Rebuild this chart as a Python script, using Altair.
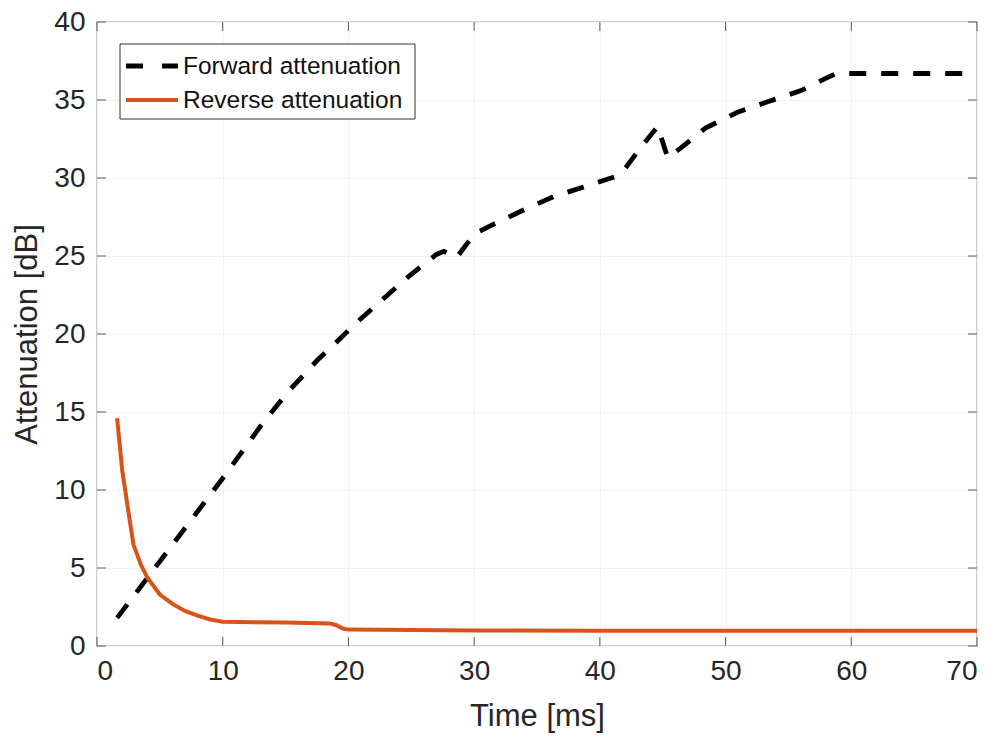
import altair as alt
import pandas as pd

# ---- data ----
fwd_t = [1.6, 10.0, 13.2, 15.2, 17.5, 18.7, 20.6, 22.7, 24.8, 27.0, 27.6, 28.6, 30.0, 31.2,
         33.8, 36.3, 39.0, 41.3, 41.9, 43.3, 44.6, 45.4, 46.4, 48.4, 50.9, 53.4, 56.0,
         58.0, 58.8, 70.0]
fwd_db = [1.8, 10.75, 14.3, 16.3, 18.3, 19.2, 20.7, 22.2, 23.7, 25.1, 25.3, 24.9, 26.4, 26.9,
          27.9, 28.8, 29.5, 30.1, 30.5, 32.0, 33.3, 31.3, 31.9, 33.2, 34.2, 34.9, 35.6,
          36.4, 36.7, 36.7]

rev_t = [1.6, 2.0, 2.5, 2.9, 3.5, 4.0, 5.0, 6.0, 7.0, 8.0, 9.0, 10.0, 15.0, 18.5, 19.0,
         19.6, 20.0, 30.0, 40.0, 50.0, 70.0]
rev_db = [14.6, 11.3, 8.6, 6.5, 5.2, 4.4, 3.3, 2.7, 2.25, 1.95, 1.7, 1.55, 1.5, 1.45, 1.35,
          1.1, 1.05, 1.0, 0.98, 0.97, 0.97]

series_names = ["Forward attenuation", "Reverse attenuation"]
x_ticks = [0, 10, 20, 30, 40, 50, 60, 70]
y_ticks = [0, 5, 10, 15, 20, 25, 30, 35, 40]

W, H = 880, 624
FONT = "Liberation Sans, Arial, Helvetica, sans-serif"
ORANGE = "#D95319"
AXIS_COL = "#5a5a5a"

fwd = pd.DataFrame({"t": fwd_t, "db": fwd_db})
rev = pd.DataFrame({"t": rev_t, "db": rev_db})
xt = pd.DataFrame({"v": x_ticks})
yt = pd.DataFrame({"v": y_ticks})

xscale = alt.Scale(domain=[0, 70], nice=False, zero=False)
yscale = alt.Scale(domain=[0, 40], nice=False, zero=False)

xaxis = alt.Axis(values=x_ticks, title="Time [ms]", grid=True, gridColor="#f0f0f0",
                 gridWidth=1, ticks=False, domain=False, labelFont=FONT, labelFontSize=28,
                 labelColor="#262626", labelPadding=11, titleFont=FONT, titleFontSize=31,
                 titleFontWeight="normal", titleColor="#262626", titlePadding=16)
yaxis = alt.Axis(values=y_ticks, title="Attenuation [dB]", grid=True, gridColor="#f0f0f0",
                 gridWidth=1, ticks=False, domain=False, labelFont=FONT, labelFontSize=28,
                 labelColor="#262626", labelPadding=12, titleFont=FONT, titleFontSize=31,
                 titleFontWeight="normal", titleColor="#262626", titlePadding=10)

base_fwd = alt.Chart(fwd).mark_line(color="black", strokeWidth=4.8, strokeDash=[17, 15],
                                    clip=True).encode(
    x=alt.X("t:Q", scale=xscale, axis=xaxis),
    y=alt.Y("db:Q", scale=yscale, axis=yaxis),
)
line_rev = alt.Chart(rev).mark_line(color=ORANGE, strokeWidth=4, clip=True).encode(
    x=alt.X("t:Q", scale=xscale),
    y=alt.Y("db:Q", scale=yscale),
)

# inward ticks on all four sides
tick_b = alt.Chart(xt).mark_rule(color=AXIS_COL, strokeWidth=1).encode(
    x=alt.X("v:Q", scale=xscale), y=alt.value(H), y2=alt.value(H - 9))
tick_t = alt.Chart(xt).mark_rule(color=AXIS_COL, strokeWidth=1).encode(
    x=alt.X("v:Q", scale=xscale), y=alt.value(0), y2=alt.value(9))
tick_l = alt.Chart(yt).mark_rule(color=AXIS_COL, strokeWidth=1).encode(
    y=alt.Y("v:Q", scale=yscale), x=alt.value(0), x2=alt.value(9))
tick_r = alt.Chart(yt).mark_rule(color=AXIS_COL, strokeWidth=1).encode(
    y=alt.Y("v:Q", scale=yscale), x=alt.value(W), x2=alt.value(W - 9))

# legend (manual, MATLAB style)
one = pd.DataFrame({"k": [0]})
leg_box = alt.Chart(one).mark_rect(fill="white", stroke="#333333", strokeWidth=1).encode(
    x=alt.value(23), x2=alt.value(318), y=alt.value(22), y2=alt.value(97))
leg_sym1 = alt.Chart(one).mark_rule(color="black", strokeWidth=4.8, strokeDash=[17, 19]).encode(
    x=alt.value(29), x2=alt.value(81), y=alt.value(44))
leg_sym2 = alt.Chart(one).mark_rule(color=ORANGE, strokeWidth=4).encode(
    x=alt.value(29), x2=alt.value(81), y=alt.value(78))
leg_txt = alt.Chart(pd.DataFrame({"name": series_names, "yy": [44, 78]})).mark_text(
    align="left", baseline="middle", font=FONT, fontSize=24.5, color="#111111", dy=1).encode(
    x=alt.value(86), y=alt.Y("yy:Q", scale=None), text="name:N")

chart = alt.layer(
    base_fwd, line_rev, tick_b, tick_t, tick_l, tick_r,
    leg_box, leg_sym1, leg_sym2, leg_txt,
).properties(
    width=W, height=H,
    autosize=alt.AutoSizeParams(type="none"),
    padding={"left": 97, "top": 22, "right": 20, "bottom": 91},
    background="white",
).configure_view(stroke=AXIS_COL, strokeWidth=1.2)

chart.save("out.html", embed_options={"renderer": "svg", "actions": False})
